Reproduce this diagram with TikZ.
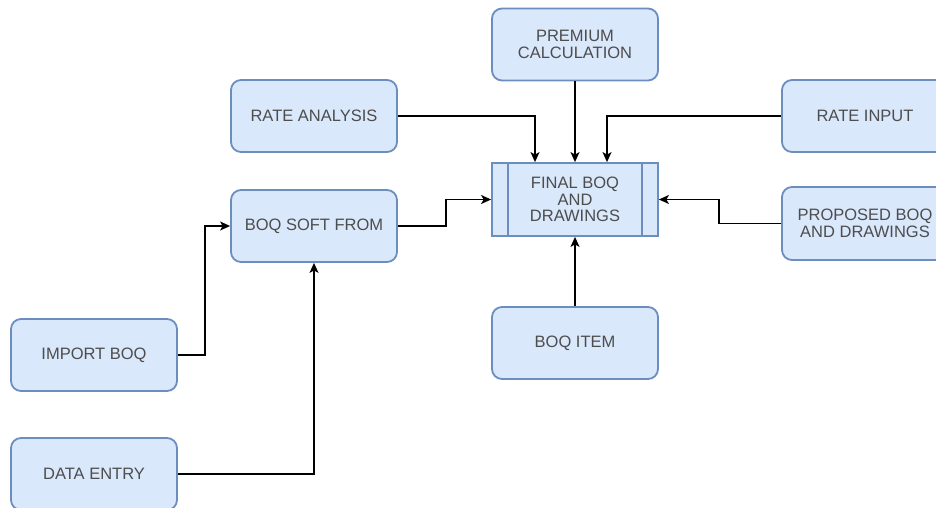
\documentclass[tikz,border=0pt]{standalone}
\usepackage{fontspec}
\setmainfont{Liberation Sans}
\usetikzlibrary{arrows.meta}
\definecolor{boxfill}{HTML}{DAE8FC}
\definecolor{boxline}{HTML}{6C8EBF}
\definecolor{boxtext}{HTML}{4D4D4D}
\tikzset{
  blk/.style={draw=boxline, fill=boxfill, line width=1.8pt, rounded corners=10pt,
    minimum width=166pt, minimum height=72pt, inner sep=0pt, align=center,
    text=boxtext, font=\fontsize{16.5}{16.7}\selectfont},
  procbox/.style={blk, rounded corners=0pt},
  arr/.style={draw=black, line width=1.3pt, -{Stealth[length=10pt,width=9pt,inset=2.5pt]}},
}
\begin{document}
\begin{tikzpicture}[x=1pt,y=-1pt]
\useasboundingbox (0,0) rectangle (936,508);
\clip (0,0) rectangle (936,508);
% boxes
\node[blk] (prem) at (575,44.5) {PREMIUM\\CALCULATION};
\node[blk] (rateA) at (314,116) {RATE ANALYSIS};
\node[blk] (rateI) at (865,116) {RATE INPUT};
\node[procbox, minimum height=73pt] (final) at (575,199.5) {FINAL BOQ\\AND\\DRAWINGS};
\draw[boxline, line width=1.8pt] ([xshift=17pt]final.north west) -- ([xshift=17pt]final.south west);
\draw[boxline, line width=1.8pt] ([xshift=-17pt]final.north east) -- ([xshift=-17pt]final.south east);
\node[blk] (soft) at (314,226) {BOQ SOFT FROM};
\node[blk, minimum height=73pt] (prop) at (865,223.5) {PROPOSED BOQ\\AND DRAWINGS};
\node[blk] (item) at (575,343) {BOQ ITEM};
\node[blk] (imp) at (94,355) {IMPORT BOQ};
\node[blk] (data) at (94,474) {DATA ENTRY};
% connectors
\draw[arr] (rateA.east) -| ([xshift=-40pt]final.north);
\draw[arr] (prem.south) -- (final.north);
\draw[arr] (rateI.west) -| ([xshift=32pt]final.north);
\draw[arr] (soft.east) -- ++(48,0) |- (final.west);
\draw[arr] (prop.west) -- ++(-62,0) |- (final.east);
\draw[arr] (item.north) -- (final.south);
\draw[arr] (imp.east) -- ++(27,0) |- (soft.west);
\draw[arr] (data.east) -| (soft.south);
\end{tikzpicture}
\end{document}
